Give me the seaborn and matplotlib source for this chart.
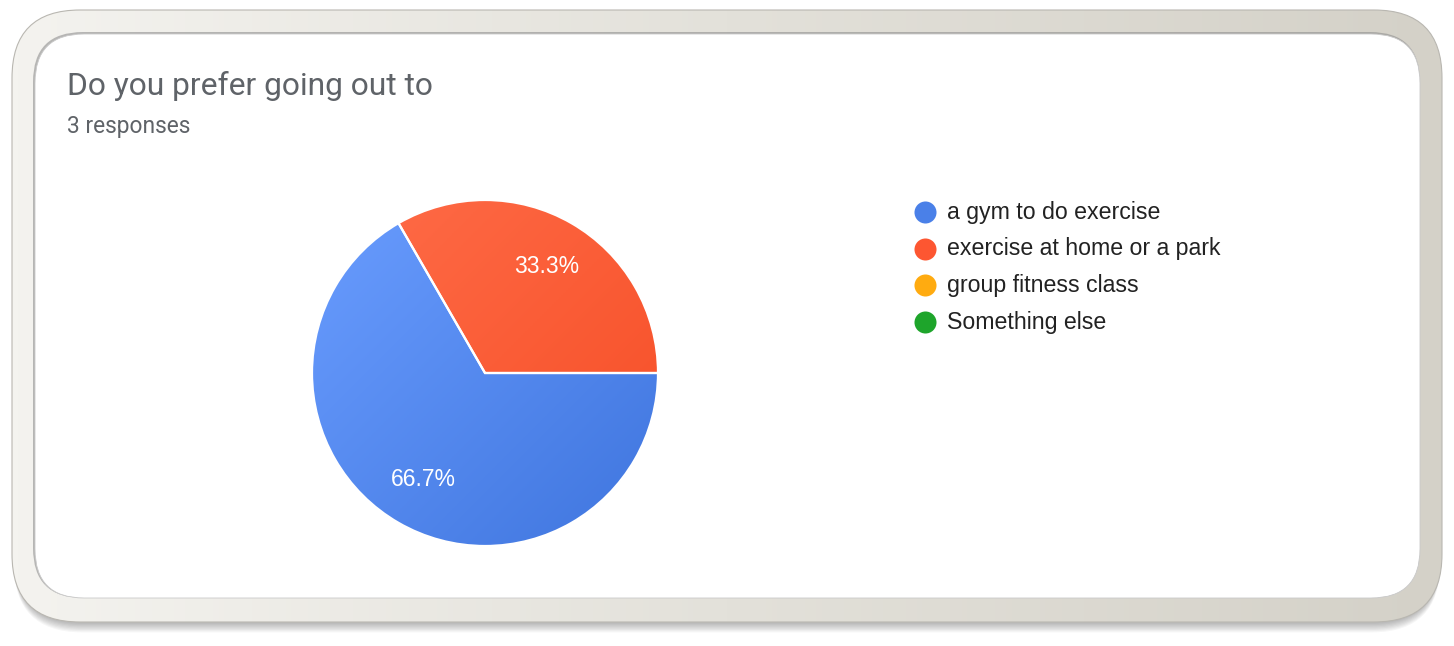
import numpy as np
import pandas as pd
import seaborn as sns
import matplotlib.pyplot as plt
from matplotlib.patches import FancyBboxPatch
from matplotlib.colors import LinearSegmentedColormap

# chart data
categories = ["a gym to do exercise", "exercise at home or a park",
              "group fitness class", "Something else"]
counts = [2, 1, 0, 0]
colors = ["#4a80e8", "#fd5631", "#ffab10", "#1ea52b"]
# light / dark ends of the slice shading
shade_light = ["#6a9dff", "#ff6d49", "#ffbb40", "#3cb84a"]
shade_dark = ["#3f75de", "#f64d25", "#f5a000", "#17962a"]
title = "Do you prefer going out to"
subtitle = "3 responses"

df = pd.DataFrame({"category": categories, "count": counts,
                   "color": colors, "light": shade_light, "dark": shade_dark})
shown = df[df["count"] > 0]

sns.set_theme(style="white")
plt.rcParams['font.family'] = ['Liberation Sans', 'DejaVu Sans']

W, H = 1454, 646
fig = plt.figure(figsize=(W / 100, H / 100), dpi=100)

# background axes in pixel coords
bg = fig.add_axes([0, 0, 1, 1])
bg.set_xlim(0, W)
bg.set_ylim(H, 0)
bg.axis('off')

# soft shadow under the frame
for i in range(8):
    bg.add_patch(FancyBboxPatch((14, 12 + i * 1.2), 1426, 612,
                                boxstyle="round,pad=0,rounding_size=68",
                                facecolor="#000000", edgecolor="none",
                                alpha=0.035, zorder=1))

# outer beige frame with horizontal gradient
outer = FancyBboxPatch((12, 10), 1430, 612, boxstyle="round,pad=0,rounding_size=68",
                       facecolor="none", edgecolor="#b9b7b1", lw=0.8, zorder=3)
bg.add_patch(outer)
band = LinearSegmentedColormap.from_list("band", ["#f4f3ef", "#e3e1da", "#d4d1c8"])
grad = np.linspace(0, 1, 256).reshape(1, -1)
im = bg.imshow(grad, cmap=band, extent=(12, 1442, 622, 10), aspect='auto', zorder=2)
im.set_clip_path(outer)

# inner shadow + white card
bg.add_patch(FancyBboxPatch((33, 32), 1387, 566, boxstyle="round,pad=0,rounding_size=50",
                            facecolor="#8e8e8e", edgecolor="none", alpha=0.6, zorder=4))
bg.add_patch(FancyBboxPatch((35, 34), 1385, 564, boxstyle="round,pad=0,rounding_size=49",
                            facecolor="white", edgecolor="#c9c9c9", lw=0.6, zorder=5))
bg.set_xlim(0, W)
bg.set_ylim(H, 0)

# titles
bg.text(67, 95, title, fontsize=22.9, color="#5f6368", family=["Roboto", "DejaVu Sans"],
        va='baseline', ha='left', zorder=6)
bg.text(67, 133, subtitle, fontsize=16.4, color="#5f6368", family=["Roboto", "DejaVu Sans"],
        va='baseline', ha='left', zorder=6)

# legend
for i, row in df.iterrows():
    y = 212 + i * 36.7
    bg.scatter([925], [y], s=22 ** 2 * 0.52, color=row["color"], zorder=6, linewidths=0)
    bg.text(947, y, row["category"], fontsize=16.7, color="#222222",
            va='center', ha='left', zorder=6)

# pie
cx, cy, r = 485, 373, 173
ax = fig.add_axes([(cx - r) / W, (H - cy - r) / H, 2 * r / W, 2 * r / H])
wedges, texts, autotexts = ax.pie(
    shown["count"], colors=shown["color"], startangle=120, counterclock=True,
    autopct=lambda p: f"{p:.1f}%", pctdistance=0.71,
    wedgeprops=dict(edgecolor="white", linewidth=1.6),
    textprops=dict(color="white", fontsize=16.5))

# diagonal shading in each slice (light at top-left, dark at bottom-right)
xx, yy = np.meshgrid(np.linspace(0, 1, 200), np.linspace(0, 1, 200))
diag = (xx + yy) / 2
for w, (_, row) in zip(wedges, shown.iterrows()):
    cmap = LinearSegmentedColormap.from_list("s", [row["light"], row["dark"]])
    g = ax.imshow(diag, cmap=cmap, extent=(-1, 1, -1, 1), origin='upper', zorder=1)
    g.set_clip_path(w)
    w.set_facecolor("none")
    w.set_zorder(2)
for t in autotexts:
    t.set_zorder(3)
ax.set_xlim(-1, 1)
ax.set_ylim(-1, 1)
ax.axis('off')

fig.savefig("out.png", dpi=100)
